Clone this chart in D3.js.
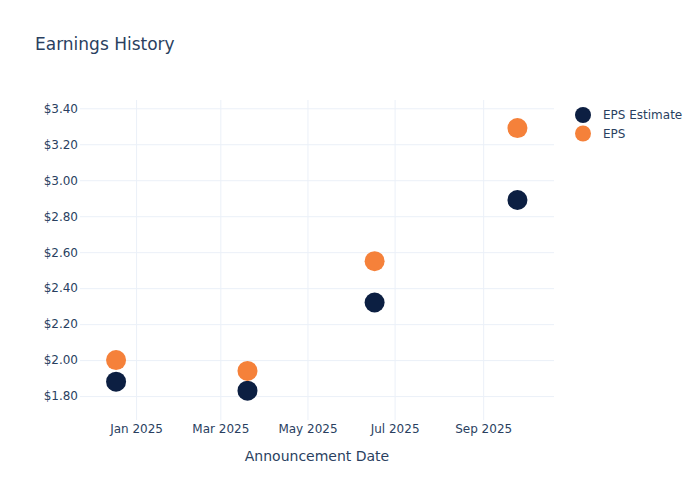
<!DOCTYPE html>
<html><head><meta charset="utf-8">
<script src="https://cdn.jsdelivr.net/npm/d3@7"></script>
<style>body{margin:0;background:#fff}text{font-family:"DejaVu Sans",Verdana,sans-serif}</style>
</head><body><svg id="c" width="700" height="500"></svg>
<script>
const dates = ["2024-12-18","2025-03-20","2025-06-17","2025-09-25"];
const epsEstimate = [1.88, 1.83, 2.32, 2.89];
const eps = [2.00, 1.94, 2.55, 3.29];
const yTicks = [1.8, 2.0, 2.2, 2.4, 2.6, 2.8, 3.0, 3.2, 3.4];
const xTickDates = ["2025-01-01","2025-03-01","2025-05-01","2025-07-01","2025-09-01"];
const seriesNames = ["EPS Estimate", "EPS"];
const seriesColors = ["#0c1f42", "#f5813a"];

const svg = d3.select("#c");
const W = 700, H = 500, m = {l:80, r:146, t:100, b:80};
const parse = d3.utcParse("%Y-%m-%d");
const x = d3.scaleUtc()
  .domain([new Date(Date.UTC(2024,10,22,18)), new Date(Date.UTC(2025,9,20,14))])
  .range([m.l, W - m.r]);
const y = d3.scaleLinear().domain([1.667, 3.446]).range([H - m.b, m.t]);
const textColor = "#2a3f5f", grid = "#EBF0F8";

// grid
const gx = svg.append("g").attr("transform", `translate(0,${H - m.b})`)
  .call(d3.axisBottom(x).tickValues(xTickDates.map(parse)).tickFormat(d3.utcFormat("%b %Y"))
    .tickSize(-(H - m.t - m.b)).tickPadding(4));
gx.select(".domain").remove();
gx.selectAll("line").attr("stroke", grid);
gx.selectAll("text").attr("fill", textColor).attr("font-size", 12);

const gy = svg.append("g").attr("transform", `translate(${m.l},0)`)
  .call(d3.axisLeft(y).tickValues(yTicks).tickFormat(d => "$" + d3.format(".2f")(d))
    .tickSize(-(W - m.l - m.r)).tickPadding(2));
gy.select(".domain").remove();
gy.selectAll("line").attr("stroke", grid);
gy.selectAll("text").attr("fill", textColor).attr("font-size", 12);

// points
const data = [epsEstimate, eps];
data.forEach((vals, si) => {
  svg.append("g").selectAll("circle").data(vals).join("circle")
    .attr("cx", (d, i) => x(parse(dates[i])))
    .attr("cy", d => y(d))
    .attr("r", 10)
    .attr("fill", seriesColors[si]);
});

// title
svg.append("text").attr("x", 35).attr("y", 50).attr("font-size", 17)
  .attr("fill", textColor).text("Earnings History");
// x axis title
svg.append("text").attr("x", (m.l + W - m.r) / 2).attr("y", 461).attr("text-anchor", "middle")
  .attr("font-size", 14).attr("fill", textColor).text("Announcement Date");

// legend
const lg = svg.append("g");
seriesNames.forEach((n, i) => {
  const yy = 115 + i * 18.5;
  lg.append("circle").attr("cx", 583).attr("cy", yy).attr("r", 8).attr("fill", seriesColors[i]);
  lg.append("text").attr("x", 603).attr("y", yy + 4).attr("font-size", 12)
    .attr("fill", textColor).text(n);
});
</script></body></html>
